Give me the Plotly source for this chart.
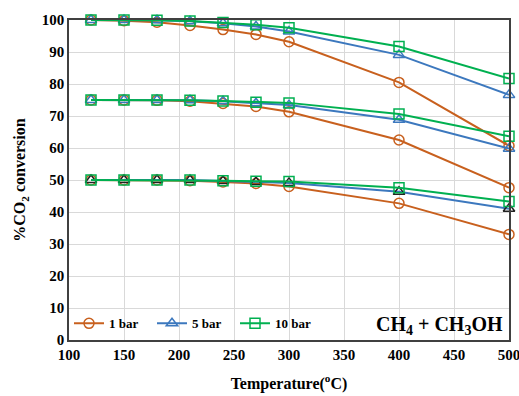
import plotly.graph_objects as go

temps = [120, 150, 180, 210, 240, 270, 300, 400, 500]

# Group starting at 100 %
top_1bar = [100, 99.8, 99.3, 98.3, 97.0, 95.5, 93.2, 80.5, 60.7]
top_5bar = [100, 100, 99.9, 99.6, 99.0, 98.0, 96.4, 89.1, 76.6]
top_10bar = [100, 100, 99.9, 99.7, 99.2, 98.5, 97.6, 91.7, 81.7]

# Group starting at 75 %
mid_1bar = [75, 75, 74.9, 74.6, 73.9, 73.0, 71.3, 62.5, 47.6]
mid_5bar = [75, 75, 75, 74.9, 74.6, 74.0, 73.4, 68.8, 59.8]
mid_10bar = [75, 75, 75, 74.9, 74.7, 74.3, 74.1, 70.6, 63.7]

# Group starting at 50 %
low_1bar = [50, 50, 50, 49.8, 49.4, 48.9, 48.0, 42.7, 33.0]
low_5bar = [50, 50, 50, 50, 49.7, 49.4, 49.1, 46.3, 41.0]
low_10bar = [50, 50, 50, 50, 49.8, 49.6, 49.5, 47.6, 43.3]

series_names = ["1 bar", "5 bar", "10 bar"]
x_ticks = [100, 150, 200, 250, 300, 350, 400, 450, 500]
y_ticks = [0, 10, 20, 30, 40, 50, 60, 70, 80, 90, 100]

orange = "#C8601E"
blue = "#3C78BE"
green = "#00B050"
colors = [orange, blue, green]
symbols = ["circle-open", "triangle-up-open", "square-open"]

groups = [
    [top_1bar, top_5bar, top_10bar],
    [mid_1bar, mid_5bar, mid_10bar],
    [low_1bar, low_5bar, low_10bar],
]

fig = go.Figure()
for gi, grp in enumerate(groups):
    for si, vals in enumerate(grp):
        mcol = colors[si]
        if gi == 2 and si == 1:
            mcol = "#222222"
        fig.add_trace(go.Scatter(
            x=temps, y=vals, mode="lines+markers",
            name=series_names[si],
            showlegend=(gi == 0),
            legendrank=si + 1,
            line=dict(color=colors[si], width=2),
            marker=dict(symbol=symbols[si], size=10, color=mcol,
                        line=dict(color=mcol, width=1.5)),
            cliponaxis=False,
        ))

font_family = "Liberation Serif"

fig.update_layout(
    width=519, height=396,
    margin=dict(l=69, r=10, t=20, b=56),
    paper_bgcolor="white", plot_bgcolor="white",
    font=dict(family=font_family, size=14, color="black"),
    showlegend=True,
    legend=dict(
        orientation="h", x=0.0, y=0.005, xanchor="left", yanchor="bottom",
        bgcolor="rgba(0,0,0,0)",
        font=dict(family=font_family, size=13, color="black", weight="bold"),
        itemwidth=30, tracegroupgap=0,
        entrywidth=38, entrywidthmode="pixels",
    ),
    xaxis=dict(
        range=[100, 500], tickvals=x_ticks, showgrid=True,
        gridcolor="#D9D9D9", gridwidth=1, automargin=False,
        showline=True, linecolor="#404040", linewidth=1.5, mirror=True,
        ticks="", zeroline=False, ticklabeloverflow="allow",
        tickfont=dict(family=font_family, size=15, color="black", weight="bold"),
        title=dict(text="Temperature(<sup>o</sup>C)", standoff=16,
                   font=dict(family=font_family, size=16, color="black", weight="bold")),
    ),
    yaxis=dict(
        range=[0, 100], tickvals=y_ticks, showgrid=True,
        gridcolor="#D9D9D9", gridwidth=1, automargin=False,
        showline=True, linecolor="#404040", linewidth=1.5, mirror=True,
        ticks="", zeroline=False, ticklabeloverflow="allow",
        tickfont=dict(family=font_family, size=15, color="black", weight="bold"),
        title=dict(text="%CO<sub>2</sub> conversion", standoff=12,
                   font=dict(family=font_family, size=16, color="black", weight="bold")),
    ),
    annotations=[dict(
        text="CH<sub>4</sub> + CH<sub>3</sub>OH", xref="paper", yref="paper",
        x=0.99, y=0.0, xanchor="right", yanchor="bottom", showarrow=False,
        font=dict(family=font_family, size=20, color="black", weight="bold"),
    )],
)

fig.write_html("out.html",
               config={"displayModeBar": False},
               post_script="document.body.style.margin='0px';document.body.style.padding='0px';")
